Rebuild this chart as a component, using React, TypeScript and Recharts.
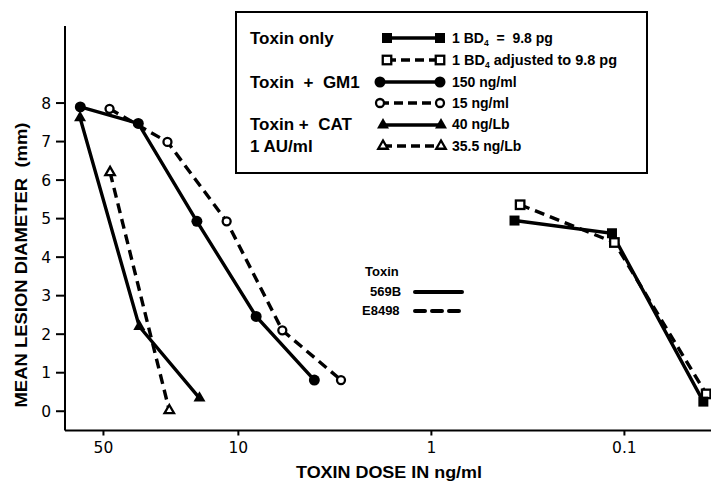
import React from 'react';
import { ComposedChart, Line, XAxis, YAxis } from 'recharts';

// ---- data ----
const doseTicks = [50, 10, 1, 0.1];
const diameterTicks = [0, 1, 2, 3, 4, 5, 6, 7, 8];

const toxinOnlyDose = [0.371, 0.116, 0.039];
const toxinOnlyDiam = [4.95, 4.62, 0.25];
const toxinAdjDose = [0.347, 0.1127, 0.0377];
const toxinAdjDiam = [5.36, 4.38, 0.45];

const gm1HighDose = [65.9, 33.0, 16.4, 8.09, 4.04];
const gm1HighDiam = [7.9, 7.47, 4.93, 2.46, 0.81];
const gm1LowDose = [46.5, 23.3, 11.5, 5.92, 2.94];
const gm1LowDiam = [7.85, 6.99, 4.93, 2.1, 0.81];

const catHighDose = [66.1, 32.6, 15.9];
const catHighDiam = [7.62, 2.2, 0.34];
const catLowDose = [46.2, 22.8];
const catLowDiam = [6.2, 0.02];

type Shape = 'square' | 'circle' | 'triangle';

const series: { key: string; dose: number[]; diam: number[]; shape: Shape; filled: boolean; dashed: boolean }[] = [
  { key: 'catHigh', dose: catHighDose, diam: catHighDiam, shape: 'triangle', filled: true, dashed: false },
  { key: 'catLow', dose: catLowDose, diam: catLowDiam, shape: 'triangle', filled: false, dashed: true },
  { key: 'gm1Low', dose: gm1LowDose, diam: gm1LowDiam, shape: 'circle', filled: false, dashed: true },
  { key: 'gm1High', dose: gm1HighDose, diam: gm1HighDiam, shape: 'circle', filled: true, dashed: false },
  { key: 'toxinAdj', dose: toxinAdjDose, diam: toxinAdjDiam, shape: 'square', filled: false, dashed: true },
  { key: 'toxinOnly', dose: toxinOnlyDose, diam: toxinOnlyDiam, shape: 'square', filled: true, dashed: false },
];

const FONT = '"Liberation Sans", Arial, sans-serif';
const TICK_FONT = '"DejaVu Sans", sans-serif';

function Marker({ cx, cy, shape, filled }: { cx: number; cy: number; shape: Shape; filled: boolean }) {
  const fill = filled ? '#000' : '#fff';
  const sw = filled ? 0 : 2.3;
  if (shape === 'circle') {
    return <circle cx={cx} cy={cy} r={filled ? 5.5 : 4} fill={fill} stroke="#000" strokeWidth={sw} />;
  }
  if (shape === 'square') {
    const s = filled ? 10 : 8.5;
    return <rect x={cx - s / 2} y={cy - s / 2} width={s} height={s} fill={fill} stroke="#000" strokeWidth={sw} />;
  }
  const w = filled ? 12 : 9.5;
  const h = w * 0.87;
  const pts = `${cx},${cy - (h * 2) / 3} ${cx - w / 2},${cy + h / 3} ${cx + w / 2},${cy + h / 3}`;
  return <polygon points={pts} fill={fill} stroke="#000" strokeWidth={sw} strokeLinejoin="miter" />;
}

const makeDot = (shape: Shape, filled: boolean) => (props: any) => {
  const { cx, cy, index } = props;
  if (cx == null || cy == null) return <g key={`e${index}`} />;
  return (
    <g key={`m${index}`}>
      <Marker cx={cx} cy={cy} shape={shape} filled={filled} />
    </g>
  );
};

function LegendSymbol({ x1, x2, y, shape, filled, dashed }: { x1: number; x2: number; y: number; shape: Shape; filled: boolean; dashed: boolean }) {
  return (
    <g>
      <line x1={x1} y1={y} x2={x2} y2={y} stroke="#000" strokeWidth={3.3} strokeDasharray={dashed ? '9 5' : undefined} />
      <Marker cx={x1} cy={y} shape={shape} filled={filled} />
      <Marker cx={x2} cy={y} shape={shape} filled={filled} />
    </g>
  );
}

export default function App() {
  return (
    <div style={{ position: 'absolute', left: 0, top: 0, width: 711, height: 485, background: '#fff' }}>
      <ComposedChart width={711} height={485} margin={{ top: 26, right: 0, bottom: 0, left: 0 }}>
        <XAxis
          type="number"
          dataKey="x"
          scale="log"
          domain={[0.0356, 79.1]}
          allowDataOverflow
          reversed
          ticks={doseTicks}
          tickFormatter={(v: number) => String(v)}
          height={54.5}
          tickSize={5}
          tickMargin={6}
          axisLine={{ stroke: '#000', strokeWidth: 2 }}
          tickLine={{ stroke: '#000', strokeWidth: 2 }}
          tick={{ fill: '#000', fontSize: 15.5, fontFamily: TICK_FONT }}
          interval={0}
        />
        <YAxis
          type="number"
          dataKey="y"
          domain={[-0.5, 10]}
          allowDataOverflow
          ticks={diameterTicks}
          width={65}
          tickSize={9}
          tickMargin={5}
          axisLine={{ stroke: '#000', strokeWidth: 2 }}
          tickLine={{ stroke: '#000', strokeWidth: 2 }}
          tick={{ fill: '#000', fontSize: 15.5, fontFamily: TICK_FONT }}
          interval={0}
        />
        {series.map((s) => (
          <Line
            key={s.key}
            data={s.dose.map((d, i) => ({ x: d, y: s.diam[i] }))}
            dataKey="y"
            type="linear"
            stroke="#000"
            strokeWidth={3.4}
            strokeDasharray={s.dashed ? '10 6' : undefined}
            dot={makeDot(s.shape, s.filled)}
            activeDot={false}
            isAnimationActive={false}
            legendType="none"
          />
        ))}
      </ComposedChart>

      <svg width={711} height={485} style={{ position: 'absolute', left: 0, top: 0, pointerEvents: 'none' }}>
        {/* axis titles */}
        <text x={389} y={478} textAnchor="middle" fontFamily={FONT} fontWeight="bold" fontSize={16} textLength={186} lengthAdjust="spacingAndGlyphs" fill="#000">
          TOXIN DOSE IN ng/ml
        </text>
        <text
          x={27}
          y={265}
          transform="rotate(-90 27 265)"
          textAnchor="middle"
          fontFamily={FONT}
          fontWeight="bold"
          fontSize={16}
          textLength={285}
          lengthAdjust="spacingAndGlyphs"
          fill="#000"
          style={{ whiteSpace: 'pre' }}
        >
          MEAN LESION DIAMETER  (mm)
        </text>

        {/* main legend */}
        <rect x={236} y={12} width={411} height={161} fill="#fff" stroke="#000" strokeWidth={2} />
        <g fontFamily={FONT} fontWeight="bold" fill="#000">
          <text x={250} y={44} fontSize={17}>Toxin only</text>
          <text x={250} y={88} fontSize={17} style={{ whiteSpace: 'pre' }}>Toxin  +  GM1</text>
          <text x={250} y={130} fontSize={17} style={{ whiteSpace: 'pre' }}>Toxin +  CAT</text>
          <text x={250} y={152} fontSize={17}>1 AU/ml</text>

          <text x={452} y={43} fontSize={14} style={{ whiteSpace: 'pre' }}>
            1 BD<tspan fontSize={8.5} dy={3}>4</tspan>
            <tspan dy={-3}>  =  9.8 pg</tspan>
          </text>
          <text x={452} y={65} fontSize={14.5} style={{ whiteSpace: 'pre' }}>
            1 BD<tspan fontSize={8.5} dy={3}>4</tspan>
            <tspan dy={-3}> adjusted to 9.8 pg</tspan>
          </text>
          <text x={452} y={87} fontSize={14}>150 ng/ml</text>
          <text x={452} y={108} fontSize={14}>15 ng/ml</text>
          <text x={452} y={129} fontSize={14}>40 ng/Lb</text>
          <text x={452} y={151} fontSize={14}>35.5 ng/Lb</text>
        </g>
        <LegendSymbol x1={387} x2={440} y={38} shape="square" filled dashed={false} />
        <LegendSymbol x1={387} x2={440} y={60} shape="square" filled={false} dashed />
        <LegendSymbol x1={380} x2={440} y={82} shape="circle" filled dashed={false} />
        <LegendSymbol x1={380} x2={440} y={103} shape="circle" filled={false} dashed />
        <LegendSymbol x1={383} x2={441} y={125} shape="triangle" filled dashed={false} />
        <LegendSymbol x1={383} x2={441} y={146} shape="triangle" filled={false} dashed />

        {/* strain legend */}
        <g fontFamily={FONT} fontWeight="bold" fill="#000" fontSize={13}>
          <text x={365} y={276}>Toxin</text>
          <text x={370} y={296}>569B</text>
          <text x={362} y={315}>E8498</text>
        </g>
        <line x1={415} y1={292} x2={462} y2={292} stroke="#000" strokeWidth={4} strokeLinecap="round" />
        <line x1={415} y1={311} x2={462} y2={311} stroke="#000" strokeWidth={4} strokeLinecap="round" strokeDasharray="10 7" />
      </svg>
    </div>
  );
}
